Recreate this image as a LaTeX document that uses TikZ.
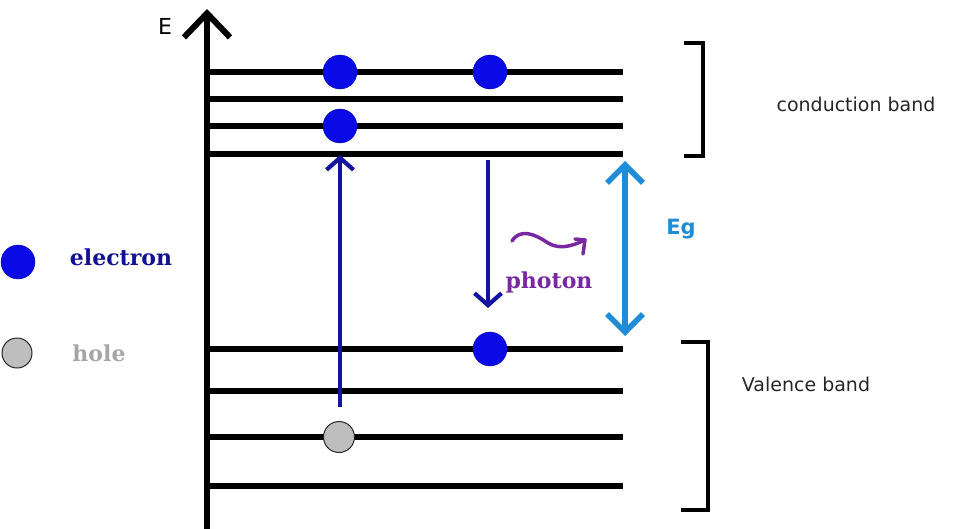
\documentclass[tikz,border=0pt]{standalone}
\usepackage{fontspec}
\setmainfont{DejaVu Serif}
\newfontfamily\labsans{DejaVu Sans}
\usetikzlibrary{arrows.meta}
\definecolor{eblue}{RGB}{10,10,230}
\definecolor{darrow}{RGB}{20,20,160}
\definecolor{gapblue}{RGB}{30,140,215}
\definecolor{phpurple}{RGB}{120,40,160}
\definecolor{holegray}{RGB}{190,190,190}
\begin{document}
\begin{tikzpicture}[x=1pt,y=-1pt,
  level/.style={line width=5.5pt},
  electronball/.style={circle,fill=eblue,draw=eblue!70!black,minimum size=34pt,inner sep=0pt},
  holeball/.style={circle,fill=holegray,draw=black!85,line width=1pt,minimum size=31pt,inner sep=0pt},
  bracket/.style={line width=3.5pt},
  trans/.style={draw=darrow,line width=4.2pt,-{Straight Barb[length=12pt,width=27pt,line width=4.2pt]}},
  sanslab/.style={font=\labsans\fontsize{19}{22}\selectfont,text=black!85},
  seriflab/.style={font=\bfseries\fontsize{22}{26}\selectfont}]
\useasboundingbox (0,0) rectangle (968,528);
% axis
\coordinate (axb) at (207,532);
\coordinate (axt) at (207,9);
\draw[line width=6pt,-{Straight Barb[length=24pt,width=46pt,line width=6pt]}] (axb) -- (axt);
\node[font=\labsans\fontsize{22}{26}\selectfont] (E) at (165,26) {E};
% energy levels
\foreach \n/\y in {c1/72,c2/99,c3/126,c4/154,v1/349,v2/391,v3/437,v4/486}{
  \coordinate (\n l) at (207,\y);
  \coordinate (\n r) at (623,\y);
  \draw[level] (\n l) -- (\n r);
}
% electrons and hole
\node[electronball] (e1) at (340,72) {};
\node[electronball] (e2) at (490,72) {};
\node[electronball] (e3) at (340,126) {};
\node[electronball] (e4) at (490,349) {};
\node[holeball] (h1) at (339,437) {};
% transitions
\coordinate (upS) at (340,407);
\coordinate (upE) at (340,155);
\draw[trans] (upS) -- (upE);
\coordinate (dnS) at (488,160);
\coordinate (dnE) at (488,308);
\draw[trans] (dnS) -- (dnE);
% band gap
\coordinate (gT) at (625,161);
\coordinate (gB) at (625,336);
\draw[draw=gapblue,line width=5.5pt,{Straight Barb[length=18pt,width=36pt,line width=5.5pt]}-{Straight Barb[length=18pt,width=36pt,line width=5.5pt]}] (gT) -- (gB);
\node[font=\labsans\bfseries\fontsize{21}{25}\selectfont,text=gapblue] (Eg) at (681,229) {Eg};
% photon
\coordinate (phS) at (512,241);
\coordinate (phE) at (585,240);
\draw[phpurple,line width=3.5pt,line cap=round] (phS) .. controls (520,228) and (535,234) .. (548,243) .. controls (560,250) and (572,246) .. (phE);
\draw[phpurple,line width=3.5pt,line cap=round,line join=round] (575,239) -- (phE) -- (583,254);
\node[seriflab,text=phpurple] (ph) at (549,282) {photon};
% brackets
\coordinate (cb1) at (684,43);
\coordinate (cb2) at (703,43);
\coordinate (cb3) at (703,156);
\coordinate (cb4) at (684,156);
\draw[bracket] (cb1) -- (cb2) -- (cb3) -- (cb4);
\coordinate (vb1) at (681,342);
\coordinate (vb2) at (708,342);
\coordinate (vb3) at (708,510);
\coordinate (vb4) at (681,510);
\draw[bracket] (vb1) -- (vb2) -- (vb3) -- (vb4);
\node[sanslab] (cband) at (856,104) {conduction band};
\node[sanslab] (vband) at (806,384) {Valence band};
% legend
\node[electronball,minimum size=34pt] (le) at (18,262) {};
\node[seriflab,text=darrow!90!black] (let) at (121,257) {electron};
\node[holeball,minimum size=30pt] (lh) at (17,353) {};
\node[seriflab,text=black!35] (lht) at (99,353) {hole};
\end{tikzpicture}
\end{document}
